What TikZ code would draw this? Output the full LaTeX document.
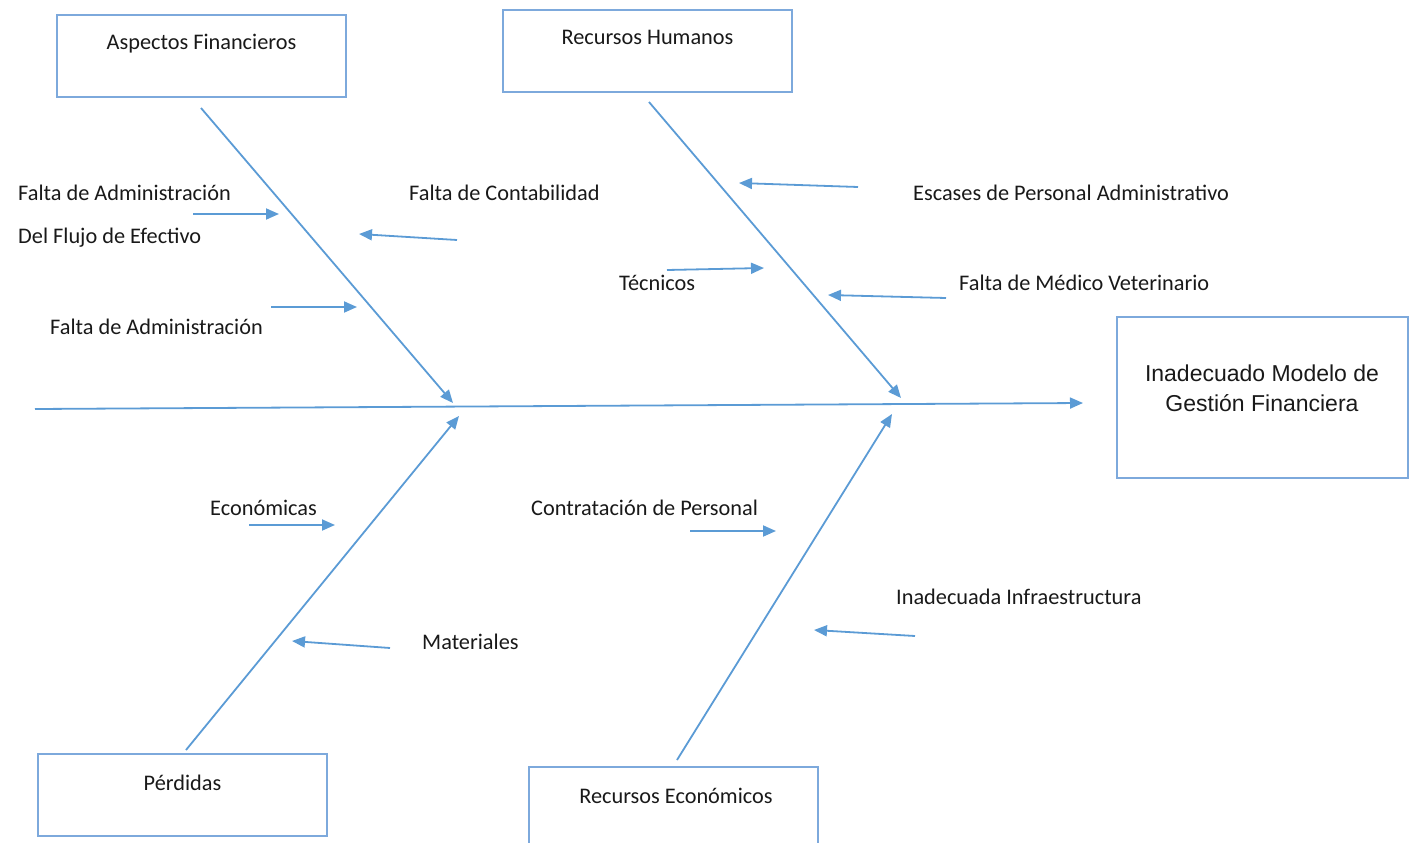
\documentclass[tikz,border=0pt]{standalone}
\usepackage{fontspec}
\setmainfont{Carlito}
\newfontfamily\arialfont{Liberation Sans}
\usetikzlibrary{arrows.meta}
\definecolor{bone}{HTML}{5B9BD5}
\definecolor{boxc}{HTML}{7DA9DC}
\begin{document}
\begin{tikzpicture}[x=1pt,y=-1pt,
  boxstyle/.style={draw=boxc,line width=1.8pt,inner sep=0pt},
  lbl/.style={anchor=west,inner sep=0pt,font=\fontsize{22.3}{26}\selectfont,text=black!90},
  boxlbl/.style={anchor=center,inner sep=0pt,font=\fontsize{22.3}{26}\selectfont,text=black!90},
  conn/.style={draw=bone,line width=1.8pt,-{Triangle[length=13pt,width=11pt]}}]
\useasboundingbox (0,0) rectangle (1409,843);
% boxes
\node[boxstyle,minimum width=289pt,minimum height=82pt] (af) at (201.5,56) {};
\node[boxlbl] (aft) at (201.5,44) {Aspectos Financieros};
\node[boxstyle,minimum width=289pt,minimum height=82pt] (rh) at (647.5,51) {};
\node[boxlbl] (rht) at (647.5,37) {Recursos Humanos};
\node[boxstyle,minimum width=291pt,minimum height=161pt] (main) at (1262.5,397.5) {};
\node[anchor=center,inner sep=0pt,align=center,font=\arialfont\fontsize{23}{30}\selectfont,text=black!90] (maint) at (1262,388) {Inadecuado Modelo de\\Gestión Financiera};
\node[boxstyle,minimum width=289pt,minimum height=82pt] (pe) at (182.5,795) {};
\node[boxlbl] (pet) at (182.5,783) {Pérdidas};
\draw[draw=boxc,line width=1.8pt] (529,843) |- (818,767) -- (818,843);
\node[boxlbl] (ret) at (676,796) {Recursos Económicos};
% spine
\coordinate (s0) at (35,409);
\coordinate (s1) at (1083,403);
\draw[conn] (s0) -- (s1);
% bones
\coordinate (b1s) at (201,108); \coordinate (b1e) at (453,403);
\coordinate (b2s) at (649,102); \coordinate (b2e) at (901,398);
\coordinate (b3s) at (186,750); \coordinate (b3e) at (459,416);
\coordinate (b4s) at (677,760); \coordinate (b4e) at (892,414);
\draw[conn] (b1s) -- (b1e);
\draw[conn] (b2s) -- (b2e);
\draw[conn] (b3s) -- (b3e);
\draw[conn] (b4s) -- (b4e);
% small arrows
\coordinate (a1s) at (193,214); \coordinate (a1e) at (279,214);
\coordinate (a2s) at (457,240); \coordinate (a2e) at (359,234);
\coordinate (a3s) at (271,307); \coordinate (a3e) at (357,307);
\coordinate (a4s) at (858,187); \coordinate (a4e) at (739,183);
\coordinate (a5s) at (667,270); \coordinate (a5e) at (764,268);
\coordinate (a6s) at (946,298); \coordinate (a6e) at (828,295);
\coordinate (a7s) at (249,525); \coordinate (a7e) at (335,525);
\coordinate (a8s) at (390,648); \coordinate (a8e) at (292,641);
\coordinate (a9s) at (690,531); \coordinate (a9e) at (776,531);
\coordinate (a10s) at (915,636); \coordinate (a10e) at (814,630);
\foreach \i in {1,...,10} {\draw[conn] (a\i s) -- (a\i e);}
% labels
\node[lbl] (l1) at (18,193) {Falta de Administración};
\node[lbl] (l2) at (18,238) {Del Flujo de Efectivo};
\node[lbl] (l3) at (50,327) {Falta de Administración};
\node[lbl] (l4) at (409,193) {Falta de Contabilidad};
\node[lbl] (l5) at (913,193) {Escases de Personal Administrativo};
\node[lbl] (l6) at (619,283) {Técnicos};
\node[lbl] (l7) at (959,283) {Falta de Médico Veterinario};
\node[lbl] (l8) at (210,508) {Económicas};
\node[lbl] (l9) at (531,508) {Contratación de Personal};
\node[lbl] (l10) at (896,597) {Inadecuada Infraestructura};
\node[lbl] (l11) at (422,642) {Materiales};
\end{tikzpicture}
\end{document}
